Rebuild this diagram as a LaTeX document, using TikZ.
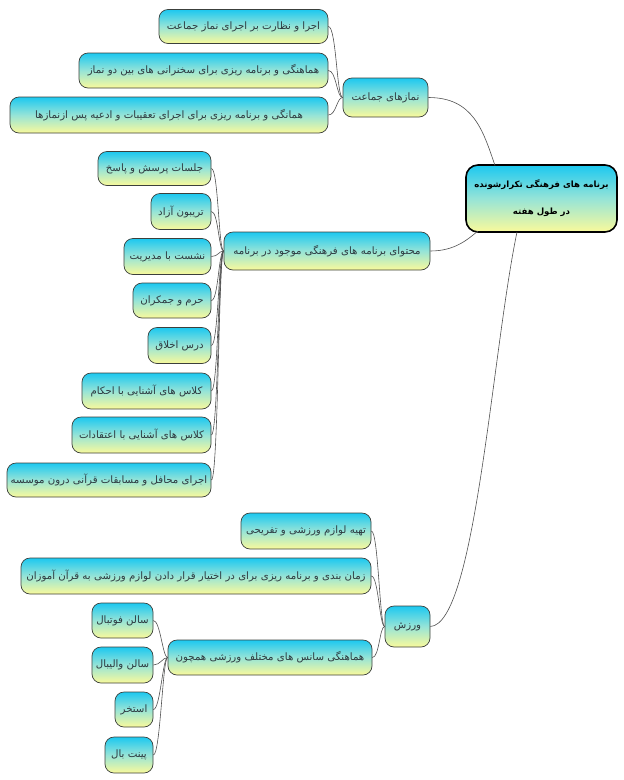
\documentclass[tikz,border=0pt]{standalone}
\usepackage{fontspec}
\newfontfamily\arabicfont[Script=Arabic]{DejaVu Sans}
\TeXXeTstate=1
\newcommand{\pers}[1]{{\arabicfont\beginR #1\endR}}
\definecolor{topcyan}{RGB}{28,200,240}
\definecolor{midcol}{RGB}{150,228,215}
\definecolor{botyellow}{RGB}{250,250,155}
\definecolor{edgecol}{RGB}{60,64,60}
\definecolor{txtcol}{RGB}{45,58,64}
\definecolor{linecol}{RGB}{80,80,80}
\tikzset{
  box/.style={draw=edgecol, line width=0.7pt, rounded corners=9pt,
    top color=topcyan, bottom color=botyellow, middle color=midcol,
    text=txtcol, font=\fontsize{10.2}{12}\selectfont, inner sep=0pt, anchor=center},
  rootbox/.style={box, draw=black, line width=1.6pt, rounded corners=12pt,
    font=\fontsize{8.6}{10}\selectfont\bfseries, align=center, text=black},
  conn/.style={draw=linecol, line width=0.6pt},
}
\begin{document}
\begin{tikzpicture}[x=1pt,y=-1pt]
\useasboundingbox (0,0) rectangle (624,780);
% root
\node[rootbox, minimum width=151pt, minimum height=67pt] (root) at (541.5,198.5)
  {\pers{برنامه های فرهنگی تکرارشونده}\\[17pt]\pers{در طول هفته}};
% branch 1
\node[box, minimum width=85pt, minimum height=39pt] (b1) at (385.5,97.5) {\pers{نمازهای جماعت}};
\node[box, minimum width=169pt, minimum height=34pt] (b1a) at (243.5,26.5) {\pers{اجرا و نظارت بر اجرای نماز جماعت}};
\node[box, minimum width=249pt, minimum height=35pt] (b1b) at (203.5,70.5) {\pers{هماهنگی و برنامه ریزی برای سخنرانی های بین دو نماز}};
\node[box, minimum width=318pt, minimum height=36pt] (b1c) at (169,115) {\pers{همانگی و برنامه ریزی برای اجرای تعقیبات و ادعیه پس ازنمازها}};
% branch 2
\node[box, minimum width=206pt, minimum height=38pt] (b2) at (327,251) {\pers{محتوای برنامه های فرهنگی موجود در برنامه}};
\node[box, minimum width=113pt, minimum height=34pt] (b2a) at (154.5,168.5) {\pers{جلسات پرسش و پاسخ}};
\node[box, minimum width=60pt, minimum height=36pt] (b2b) at (181,211.5) {\pers{تریبون آزاد}};
\node[box, minimum width=87pt, minimum height=36pt] (b2c) at (167.5,256.5) {\pers{نشست با مدیریت}};
\node[box, minimum width=78pt, minimum height=35pt] (b2d) at (172,300.5) {\pers{حرم و جمکران}};
\node[box, minimum width=63pt, minimum height=36pt] (b2e) at (179.5,345.5) {\pers{درس اخلاق}};
\node[box, minimum width=129pt, minimum height=36pt] (b2f) at (146.5,391) {\pers{کلاس های آشنایی با احکام}};
\node[box, minimum width=139pt, minimum height=36pt] (b2g) at (141.5,435) {\pers{کلاس های آشنایی با اعتقادات}};
\node[box, minimum width=204pt, minimum height=34pt] (b2h) at (109,480) {\pers{اجرای محافل و مسابقات قرآنی درون موسسه}};
% branch 3
\node[box, minimum width=45pt, minimum height=41pt] (b3) at (407.5,626.5) {\pers{ورزش}};
\node[box, minimum width=130pt, minimum height=36pt] (b3a) at (306,531) {\pers{تهیه لوازم ورزشی و تفریحی}};
\node[box, minimum width=350pt, minimum height=36pt] (b3b) at (196,576) {\pers{زمان بندی و برنامه ریزی برای در اختیار قرار دادن لوازم ورزشی به قرآن آموزان}};
\node[box, minimum width=204pt, minimum height=35pt] (b3c) at (270,657.5) {\pers{هماهنگی سانس های مختلف ورزشی همچون}};
\node[box, minimum width=61pt, minimum height=35pt] (g1) at (122.5,620.5) {\pers{سالن فوتبال}};
\node[box, minimum width=61pt, minimum height=36pt] (g2) at (122.5,665) {\pers{سالن والیبال}};
\node[box, minimum width=38pt, minimum height=35pt] (g3) at (134,709.5) {\pers{استخر}};
\node[box, minimum width=48pt, minimum height=36pt] (g4) at (129,755) {\pers{پینت بال}};
% root connectors
\coordinate (r1) at (495,165.5);
\coordinate (r2) at (478,231);
\coordinate (r3) at (517,232);
\draw[conn] (b1.east) .. controls +(45,0) and +(-12,-35) .. (r1);
\draw[conn] (b2.east) .. controls +(25,0) and +(-10,8) .. (r2);
\draw[conn] (b3.east) .. controls +(45,-2) and +(-25,120) .. (r3);
% branch 1 connectors
\foreach \c in {b1a,b1b,b1c}
  \draw[conn] (\c.east) .. controls +(8,0) and +(-6,0) .. (b1.west);
% branch 2 connectors
\foreach \c in {b2a,b2b,b2c,b2d,b2e,b2f,b2g,b2h}
  \draw[conn] (\c.east) .. controls +(7,0) and +(-5,0) .. (b2.west);
% branch 3 connectors
\foreach \c in {b3a,b3b,b3c}
  \draw[conn] (\c.east) .. controls +(7,0) and +(-5,0) .. (b3.west);
\foreach \c in {g1,g2,g3,g4}
  \draw[conn] (\c.east) .. controls +(7,0) and +(-5,0) .. (b3c.west);
\end{tikzpicture}
\end{document}
